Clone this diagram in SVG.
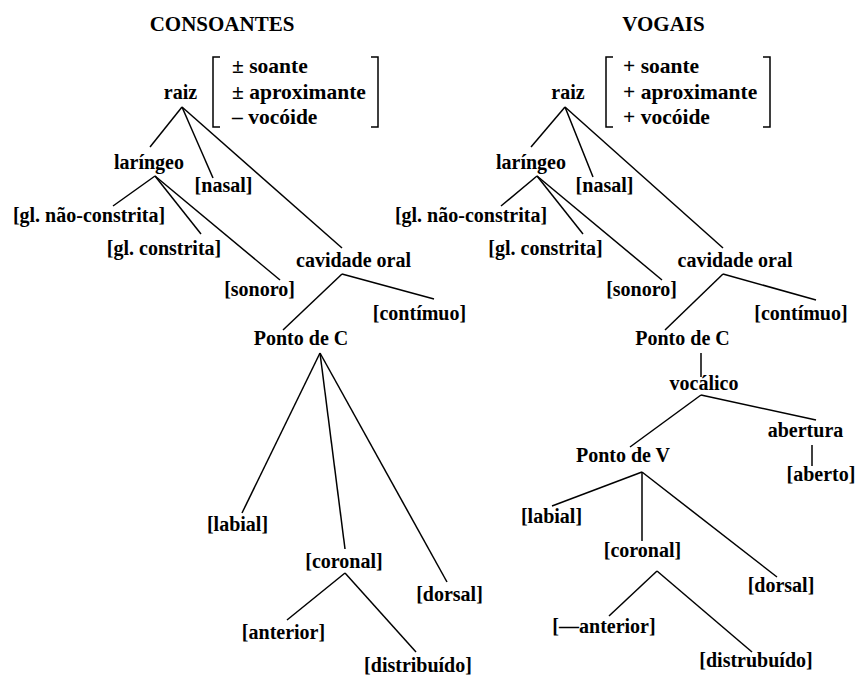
<svg xmlns="http://www.w3.org/2000/svg" width="856" height="677" viewBox="0 0 856 677">
<style>
text{font-family:"Liberation Serif","DejaVu Serif",serif;font-weight:bold;font-size:20px;fill:#000;text-anchor:middle}
.t{font-size:21px}
.f{text-anchor:start;font-size:21.5px}
line,path{stroke:#000;stroke-width:1.5;fill:none}
</style>
<rect width="856" height="677" fill="#fff"/>
<g id="connectors">
<line x1="182" y1="107" x2="150" y2="147"/>
<line x1="182" y1="107" x2="213" y2="178"/>
<line x1="182" y1="107" x2="342" y2="248"/>
<line x1="155" y1="176" x2="113" y2="206"/>
<line x1="155" y1="176" x2="201" y2="234"/>
<line x1="155" y1="176" x2="280" y2="280"/>
<line x1="342" y1="274" x2="283" y2="330"/>
<line x1="342" y1="274" x2="434" y2="299"/>
<line x1="320" y1="353" x2="242" y2="513"/>
<line x1="320" y1="353" x2="345" y2="549"/>
<line x1="320" y1="353" x2="447" y2="582"/>
<line x1="345" y1="573" x2="287" y2="620"/>
<line x1="345" y1="573" x2="416" y2="652"/>
<line x1="565" y1="107" x2="531" y2="147"/>
<line x1="565" y1="107" x2="593" y2="177"/>
<line x1="565" y1="107" x2="723" y2="248"/>
<line x1="537" y1="176" x2="501" y2="206"/>
<line x1="537" y1="176" x2="583" y2="234"/>
<line x1="537" y1="176" x2="662" y2="280"/>
<line x1="723" y1="274" x2="665" y2="330"/>
<line x1="723" y1="274" x2="816" y2="300"/>
<line x1="701" y1="353" x2="701" y2="377"/>
<line x1="701" y1="395" x2="630" y2="447"/>
<line x1="701" y1="395" x2="816" y2="420"/>
<line x1="812" y1="445" x2="812" y2="466"/>
<line x1="642" y1="472" x2="552" y2="506"/>
<line x1="642" y1="472" x2="642" y2="541"/>
<line x1="642" y1="472" x2="777" y2="577"/>
<line x1="657" y1="571" x2="609" y2="616"/>
<line x1="657" y1="571" x2="752" y2="652"/>
</g>
<g id="cons-title"><text class="t" x="222" y="31">CONSOANTES</text></g>
<g id="cons-raiz"><text x="180.5" y="99">raiz</text></g>
<g id="cons-matrix">
<path d="M220,57 H213 V127 H220"/>
<path d="M371,57 H378 V127 H371"/>
<text class="f" x="232" y="73">± soante</text>
<text class="f" x="232" y="99">± aproximante</text>
<text class="f" x="232" y="124">– vocóide</text>
</g>
<g id="cons-laringeo"><text x="149" y="169">laríngeo</text></g>
<g id="cons-nasal"><text x="223.5" y="192">[nasal]</text></g>
<g id="cons-glnc"><text x="89" y="222">[gl. não-constrita]</text></g>
<g id="cons-glc"><text x="164" y="255">[gl. constrita]</text></g>
<g id="cons-cavidade"><text x="353.5" y="267">cavidade oral</text></g>
<g id="cons-sonoro"><text x="259.5" y="296">[sonoro]</text></g>
<g id="cons-continuo"><text x="419.5" y="320">[contímuo]</text></g>
<g id="cons-pontoC"><text x="301" y="345">Ponto de C</text></g>
<g id="cons-labial"><text x="237.5" y="531">[labial]</text></g>
<g id="cons-coronal"><text x="344" y="568">[coronal]</text></g>
<g id="cons-dorsal"><text x="449.5" y="601">[dorsal]</text></g>
<g id="cons-anterior"><text x="283.5" y="639">[anterior]</text></g>
<g id="cons-distribuido"><text x="418" y="672">[distribuído]</text></g>

<g id="vog-title"><text class="t" x="663.5" y="31">VOGAIS</text></g>
<g id="vog-raiz"><text x="568" y="99">raiz</text></g>
<g id="vog-matrix">
<path d="M613,57 H606 V127 H613"/>
<path d="M763,57 H770 V127 H763"/>
<text class="f" x="623" y="73">+ soante</text>
<text class="f" x="623" y="99">+ aproximante</text>
<text class="f" x="623" y="124">+ vocóide</text>
</g>
<g id="vog-laringeo"><text x="531" y="169">laríngeo</text></g>
<g id="vog-nasal"><text x="604.5" y="192">[nasal]</text></g>
<g id="vog-glnc"><text x="471" y="222">[gl. não-constrita]</text></g>
<g id="vog-glc"><text x="545.5" y="255">[gl. constrita]</text></g>
<g id="vog-cavidade"><text x="735" y="267">cavidade oral</text></g>
<g id="vog-sonoro"><text x="641.5" y="296">[sonoro]</text></g>
<g id="vog-continuo"><text x="801" y="320">[contímuo]</text></g>
<g id="vog-pontoC"><text x="682.5" y="345">Ponto de C</text></g>
<g id="vog-vocalico"><text x="704" y="390">vocálico</text></g>
<g id="vog-abertura"><text x="805.5" y="437">abertura</text></g>
<g id="vog-pontoV"><text x="623" y="462">Ponto de V</text></g>
<g id="vog-aberto"><text x="821" y="481">[aberto]</text></g>
<g id="vog-labial"><text x="551.5" y="523">[labial]</text></g>
<g id="vog-coronal"><text x="642.5" y="557">[coronal]</text></g>
<g id="vog-dorsal"><text x="781" y="592">[dorsal]</text></g>
<g id="vog-anterior"><text x="604" y="633">[—anterior]</text></g>
<g id="vog-distrubuido"><text x="756" y="667">[distrubuído]</text></g>
</svg>
